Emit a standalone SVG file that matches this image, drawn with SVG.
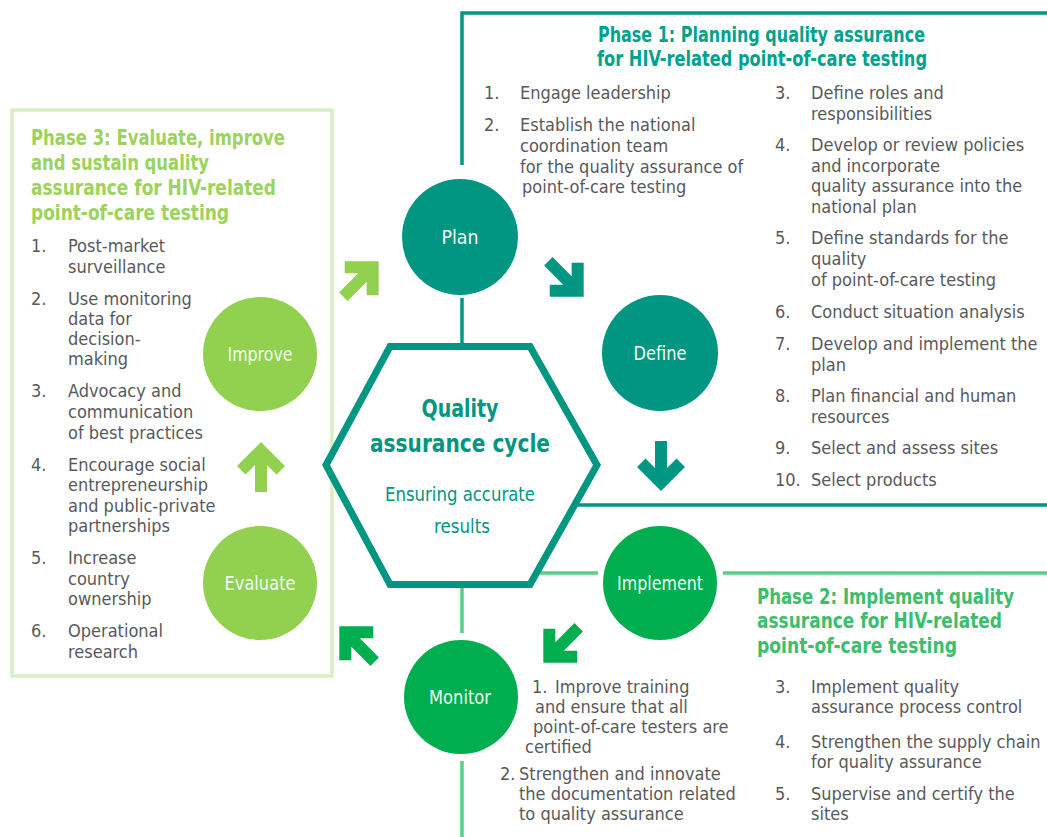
<svg xmlns="http://www.w3.org/2000/svg" width="1047" height="837" viewBox="0 0 1047 837">
<style>
text{font-family:"DejaVu Sans Condensed","Liberation Sans Narrow","Liberation Sans",sans-serif}
.b{font-size:18px;fill:#58595b}
.tt{font-size:22px;font-weight:bold}
.t1{fill:#00a28c}
.t2{fill:#3dbe6c}
.t3{fill:#9bd35d}
.lbl{font-size:20px;fill:#eefbf4;text-anchor:middle}
.hx{fill:#009681;text-anchor:middle}
.ln1{stroke:#009681;stroke-width:3.5;fill:none}
.ln2{stroke:#5ecb86;stroke-width:3.5;fill:none}
.ln3{stroke:#d8efc5;stroke-width:3.5;fill:none}
.arr{stroke:#fff;stroke-width:3;paint-order:stroke}
</style>
<defs>
<polygon id="arrow" points="0,-25 24,-1 15.5,7.5 6,-2 6,25 -6,25 -6,-2 -15.5,7.5 -24,-1"/>
</defs>
<rect width="1047" height="837" fill="#fff"/>

<g id="phase3">
<rect class="ln3" x="12" y="110" width="320" height="566"/>
<text class="tt t3" x="31" y="145" textLength="254" lengthAdjust="spacingAndGlyphs">Phase 3: Evaluate, improve</text>
<text class="tt t3" x="31" y="170" textLength="178" lengthAdjust="spacingAndGlyphs">and sustain quality</text>
<text class="tt t3" x="31" y="195" textLength="245" lengthAdjust="spacingAndGlyphs">assurance for HIV-related</text>
<text class="tt t3" x="31" y="220" textLength="198" lengthAdjust="spacingAndGlyphs">point-of-care testing</text>
<text class="b" x="31" y="252">1.</text><text class="b" x="68" y="252">Post-market</text>
<text class="b" x="68" y="273">surveillance</text>
<text class="b" x="31" y="305">2.</text><text class="b" x="68" y="305">Use monitoring</text>
<text class="b" x="68" y="325">data for</text>
<text class="b" x="68" y="345">decision-</text>
<text class="b" x="68" y="365">making</text>
<text class="b" x="31" y="397">3.</text><text class="b" x="68" y="397">Advocacy and</text>
<text class="b" x="68" y="418">communication</text>
<text class="b" x="68" y="439">of best practices</text>
<text class="b" x="31" y="471">4.</text><text class="b" x="68" y="471">Encourage social</text>
<text class="b" x="68" y="491">entrepreneurship</text>
<text class="b" x="68" y="512">and public-private</text>
<text class="b" x="68" y="532">partnerships</text>
<text class="b" x="31" y="564">5.</text><text class="b" x="68" y="564">Increase</text>
<text class="b" x="68" y="585">country</text>
<text class="b" x="68" y="605">ownership</text>
<text class="b" x="31" y="637">6.</text><text class="b" x="68" y="637">Operational</text>
<text class="b" x="68" y="658">research</text>
</g>

<g id="phase1">
<polyline class="ln1" points="462,165 462,13 1047,13"/>
<line class="ln1" x1="576" y1="505" x2="1047" y2="505"/>
<text class="tt t1" x="598" y="42" textLength="327" lengthAdjust="spacingAndGlyphs">Phase 1: Planning quality assurance</text>
<text class="tt t1" x="597" y="66" textLength="330" lengthAdjust="spacingAndGlyphs">for HIV-related point-of-care testing</text>
<text class="b" x="484" y="99">1.</text><text class="b" x="520" y="99">Engage leadership</text>
<text class="b" x="484" y="131">2.</text><text class="b" x="520" y="131">Establish the national</text>
<text class="b" x="520" y="152">coordination team</text>
<text class="b" x="520" y="173">for the quality assurance of</text>
<text class="b" x="522" y="193">point-of-care testing</text>
<text class="b" x="775" y="99">3.</text><text class="b" x="811" y="99">Define roles and</text>
<text class="b" x="811" y="120">responsibilities</text>
<text class="b" x="775" y="151">4.</text><text class="b" x="811" y="151">Develop or review policies</text>
<text class="b" x="811" y="172">and incorporate</text>
<text class="b" x="811" y="192">quality assurance into the</text>
<text class="b" x="811" y="213">national plan</text>
<text class="b" x="775" y="244">5.</text><text class="b" x="811" y="244">Define standards for the</text>
<text class="b" x="811" y="265">quality</text>
<text class="b" x="811" y="286">of point-of-care testing</text>
<text class="b" x="775" y="318">6.</text><text class="b" x="811" y="318">Conduct situation analysis</text>
<text class="b" x="775" y="350">7.</text><text class="b" x="811" y="350">Develop and implement the</text>
<text class="b" x="811" y="371">plan</text>
<text class="b" x="775" y="402">8.</text><text class="b" x="811" y="402">Plan financial and human</text>
<text class="b" x="811" y="423">resources</text>
<text class="b" x="775" y="454">9.</text><text class="b" x="811" y="454">Select and assess sites</text>
<text class="b" x="775" y="486">10.</text><text class="b" x="811" y="486">Select products</text>
</g>

<g id="phase2">
<line class="ln2" x1="540" y1="573" x2="598" y2="573"/>
<line class="ln2" x1="723" y1="573" x2="1047" y2="573"/>
<text class="tt t2" x="757" y="604" textLength="257" lengthAdjust="spacingAndGlyphs">Phase 2: Implement quality</text>
<text class="tt t2" x="757" y="628" textLength="245" lengthAdjust="spacingAndGlyphs">assurance for HIV-related</text>
<text class="tt t2" x="757" y="653" textLength="200" lengthAdjust="spacingAndGlyphs">point-of-care testing</text>
<text class="b" x="532" y="693">1.</text><text class="b" x="555" y="693">Improve training</text>
<text class="b" x="535" y="713">and ensure that all</text>
<text class="b" x="533" y="733">point-of-care testers are</text>
<text class="b" x="525" y="753">certified</text>
<text class="b" x="500" y="780">2.</text><text class="b" x="519" y="780">Strengthen and innovate</text>
<text class="b" x="519" y="800">the documentation related</text>
<text class="b" x="519" y="820">to quality assurance</text>
<text class="b" x="775" y="693">3.</text><text class="b" x="811" y="693">Implement quality</text>
<text class="b" x="811" y="713">assurance process control</text>
<text class="b" x="775" y="748">4.</text><text class="b" x="811" y="748">Strengthen the supply chain</text>
<text class="b" x="811" y="768">for quality assurance</text>
<text class="b" x="775" y="800">5.</text><text class="b" x="811" y="800">Supervise and certify the</text>
<text class="b" x="811" y="820">sites</text>
</g>

<g id="connectors">
<line class="ln1" x1="462" y1="298" x2="462" y2="344"/>
<line class="ln2" x1="462" y1="587" x2="462" y2="633"/>
<line class="ln2" x1="462" y1="761" x2="462" y2="837"/>
<use href="#arrow" class="arr" fill="#92d050" transform="translate(361,279) rotate(45)"/>
<use href="#arrow" class="arr" fill="#009681" transform="translate(566,279) rotate(135)"/>
<use href="#arrow" class="arr" fill="#009681" transform="translate(661,466) rotate(180)"/>
<use href="#arrow" class="arr" fill="#00ae4f" transform="translate(561,645) rotate(225)"/>
<use href="#arrow" class="arr" fill="#00ae4f" transform="translate(357,644) rotate(315)"/>
<use href="#arrow" class="arr" fill="#92d050" transform="translate(261,467)"/>
</g>

<g id="hexagon">
<polygon points="390,346.5 530,346.5 597,465 530,584.5 390,584.5 326,465" fill="#fff" stroke="#009681" stroke-width="7"/>
<text class="hx" x="460" y="417" font-size="25" font-weight="bold" textLength="77" lengthAdjust="spacingAndGlyphs">Quality</text>
<text class="hx" x="460" y="452" font-size="25" font-weight="bold" textLength="180" lengthAdjust="spacingAndGlyphs">assurance cycle</text>
<text class="hx" x="460" y="501" font-size="20" textLength="150" lengthAdjust="spacingAndGlyphs">Ensuring accurate</text>
<text class="hx" x="462" y="533" font-size="20" textLength="56" lengthAdjust="spacingAndGlyphs">results</text>
</g>

<g id="node-plan"><circle cx="460" cy="237" r="58" fill="#009681"/><text class="lbl" x="460" y="244" textLength="37" lengthAdjust="spacingAndGlyphs">Plan</text></g>
<g id="node-define"><circle cx="660" cy="353" r="58" fill="#009681"/><text class="lbl" x="660" y="360" textLength="53" lengthAdjust="spacingAndGlyphs">Define</text></g>
<g id="node-implement"><circle cx="660" cy="583" r="57" fill="#00ae4f"/><text class="lbl" x="660" y="590" textLength="86" lengthAdjust="spacingAndGlyphs">Implement</text></g>
<g id="node-monitor"><circle cx="461" cy="697" r="57" fill="#00ae4f"/><text class="lbl" x="460" y="704" textLength="62" lengthAdjust="spacingAndGlyphs">Monitor</text></g>
<g id="node-evaluate"><circle cx="260" cy="583" r="57" fill="#92d050"/><text class="lbl" x="260" y="590" textLength="71" lengthAdjust="spacingAndGlyphs">Evaluate</text></g>
<g id="node-improve"><circle cx="260" cy="354" r="57" fill="#92d050"/><text class="lbl" x="260" y="361" textLength="65" lengthAdjust="spacingAndGlyphs">Improve</text></g>
</svg>
